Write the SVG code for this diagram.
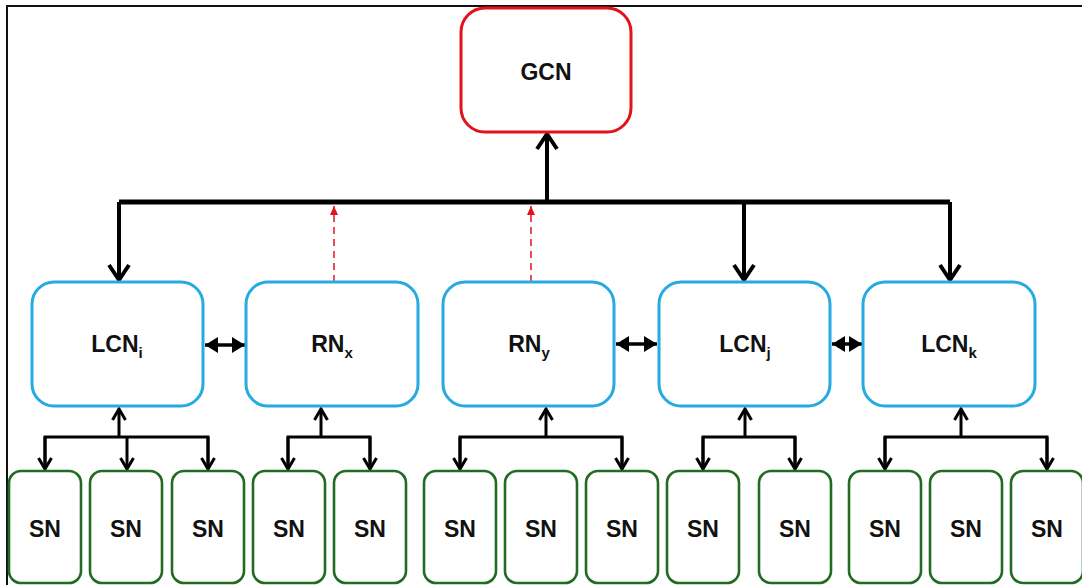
<svg xmlns="http://www.w3.org/2000/svg" width="1082" height="585" viewBox="0 0 1082 585">
<style>
  .txt{font-family:"Liberation Sans",Arial,sans-serif;font-weight:bold;font-size:23px;fill:#111;text-anchor:middle}
  .sub{font-size:15px}
  .gcn{fill:#fff;stroke:#e3131b;stroke-width:3}
  .mid{fill:#fff;stroke:#27aae1;stroke-width:3}
  .sn{fill:#fff;stroke:#226b22;stroke-width:2.6}
  .bus{stroke:#000;stroke-width:5;fill:none}
  .drop{stroke:#000;stroke-width:4;fill:none}
  .tree{stroke:#000;stroke-width:3;fill:none}
  .bi{stroke:#000;stroke-width:3.5;fill:none}
  .red{stroke:#e3131b;stroke-width:1.5;stroke-dasharray:7 5;fill:none}
</style>
<defs>
  <marker id="chevBig" markerUnits="userSpaceOnUse" markerWidth="30" markerHeight="30" viewBox="-20 -15 30 30" refX="0" refY="0" orient="auto" overflow="visible">
    <path d="M-15,-10 L0,0 L-15,10" fill="none" stroke="#000" stroke-width="4" stroke-linejoin="miter"/>
  </marker>
  <marker id="chev" markerUnits="userSpaceOnUse" markerWidth="24" markerHeight="24" viewBox="-16 -12 24 24" refX="0" refY="0" orient="auto" overflow="visible">
    <path d="M-11,-6.5 L0,0 L-11,6.5" fill="none" stroke="#000" stroke-width="3" stroke-linejoin="miter"/>
  </marker>
  <marker id="tri" markerUnits="userSpaceOnUse" markerWidth="20" markerHeight="20" viewBox="-14 -10 20 20" refX="0" refY="0" orient="auto-start-reverse" overflow="visible">
    <path d="M-13,-8 L0,0 L-13,8 Z" fill="#000"/>
  </marker>
  <marker id="redtri" markerUnits="userSpaceOnUse" markerWidth="12" markerHeight="12" viewBox="-10 -6 12 12" refX="0" refY="0" orient="auto" overflow="visible">
    <path d="M-9,-4 L0,0 L-9,4 Z" fill="#e3131b"/>
  </marker>
</defs>

<rect x="7" y="6" width="1090" height="600" fill="none" stroke="#111" stroke-width="2"/>

<g id="connectors">
  <!-- bus -->
  <path class="bus" d="M119,202 H950"/>
  <path class="drop" d="M547,202 V134" marker-end="url(#chevBig)"/>
  <path class="drop" d="M119,202 V280" marker-end="url(#chevBig)"/>
  <path class="drop" d="M744,202 V280" marker-end="url(#chevBig)"/>
  <path class="drop" d="M950,202 V280" marker-end="url(#chevBig)"/>
  <path class="red" d="M334,282 V206" marker-end="url(#redtri)"/>
  <path class="red" d="M531,282 V206" marker-end="url(#redtri)"/>
  <!-- lateral -->
  <path class="bi" d="M205,345 H245" marker-start="url(#tri)" marker-end="url(#tri)"/>
  <path class="bi" d="M616,344 H657" marker-start="url(#tri)" marker-end="url(#tri)"/>
  <path class="bi" d="M832,344 H862" marker-start="url(#tri)" marker-end="url(#tri)"/>
  <!-- trees -->
  <path class="tree" d="M119,437 V409" marker-end="url(#chev)"/>
  <path class="tree" d="M45,469 V437 H208 V469" />
  <path class="tree" d="M45,437 V469" marker-end="url(#chev)"/>
  <path class="tree" d="M127,437 V469" marker-end="url(#chev)"/>
  <path class="tree" d="M208,437 V469" marker-end="url(#chev)"/>

  <path class="tree" d="M321,437 V409" marker-end="url(#chev)"/>
  <path class="tree" d="M288,469 V437 H370 V469"/>
  <path class="tree" d="M288,437 V469" marker-end="url(#chev)"/>
  <path class="tree" d="M370,437 V469" marker-end="url(#chev)"/>

  <path class="tree" d="M546,437 V409" marker-end="url(#chev)"/>
  <path class="tree" d="M460,469 V437 H622 V469"/>
  <path class="tree" d="M460,437 V469" marker-end="url(#chev)"/>
  <path class="tree" d="M622,437 V469" marker-end="url(#chev)"/>

  <path class="tree" d="M745,437 V409" marker-end="url(#chev)"/>
  <path class="tree" d="M703,469 V437 H795 V469"/>
  <path class="tree" d="M703,437 V469" marker-end="url(#chev)"/>
  <path class="tree" d="M795,437 V469" marker-end="url(#chev)"/>

  <path class="tree" d="M961,437 V409" marker-end="url(#chev)"/>
  <path class="tree" d="M885,469 V437 H1047 V469"/>
  <path class="tree" d="M885,437 V469" marker-end="url(#chev)"/>
  <path class="tree" d="M1047,437 V469" marker-end="url(#chev)"/>
</g>

<g id="GCN"><rect class="gcn" x="461" y="8" width="170" height="124" rx="24"/><text class="txt" x="546" y="80">GCN</text></g>

<g id="LCNi"><rect class="mid" x="32" y="282" width="171" height="124" rx="22"/><text class="txt" x="117" y="352">LCN<tspan class="sub" dy="6">i</tspan></text></g>
<g id="RNx"><rect class="mid" x="246" y="282" width="172" height="124" rx="22"/><text class="txt" x="332" y="352">RN<tspan class="sub" dy="6">x</tspan></text></g>
<g id="RNy"><rect class="mid" x="443" y="282" width="171" height="124" rx="22"/><text class="txt" x="529" y="352">RN<tspan class="sub" dy="6">y</tspan></text></g>
<g id="LCNj"><rect class="mid" x="659" y="282" width="171" height="124" rx="22"/><text class="txt" x="745" y="352">LCN<tspan class="sub" dy="6">j</tspan></text></g>
<g id="LCNk"><rect class="mid" x="863" y="282" width="172" height="124" rx="22"/><text class="txt" x="949" y="352">LCN<tspan class="sub" dy="6">k</tspan></text></g>

<g id="SN1"><rect class="sn" x="9" y="471" width="72" height="112" rx="12"/><text class="txt" x="45" y="537">SN</text></g>
<g id="SN2"><rect class="sn" x="90" y="471" width="72" height="112" rx="12"/><text class="txt" x="126" y="537">SN</text></g>
<g id="SN3"><rect class="sn" x="172" y="471" width="72" height="112" rx="12"/><text class="txt" x="208" y="537">SN</text></g>
<g id="SN4"><rect class="sn" x="253" y="471" width="72" height="112" rx="12"/><text class="txt" x="289" y="537">SN</text></g>
<g id="SN5"><rect class="sn" x="334" y="471" width="72" height="112" rx="12"/><text class="txt" x="370" y="537">SN</text></g>
<g id="SN6"><rect class="sn" x="424" y="471" width="72" height="112" rx="12"/><text class="txt" x="460" y="537">SN</text></g>
<g id="SN7"><rect class="sn" x="505" y="471" width="72" height="112" rx="12"/><text class="txt" x="541" y="537">SN</text></g>
<g id="SN8"><rect class="sn" x="586" y="471" width="72" height="112" rx="12"/><text class="txt" x="622" y="537">SN</text></g>
<g id="SN9"><rect class="sn" x="667" y="471" width="72" height="112" rx="12"/><text class="txt" x="703" y="537">SN</text></g>
<g id="SN10"><rect class="sn" x="759" y="471" width="72" height="112" rx="12"/><text class="txt" x="795" y="537">SN</text></g>
<g id="SN11"><rect class="sn" x="849" y="471" width="72" height="112" rx="12"/><text class="txt" x="885" y="537">SN</text></g>
<g id="SN12"><rect class="sn" x="930" y="471" width="72" height="112" rx="12"/><text class="txt" x="966" y="537">SN</text></g>
<g id="SN13"><rect class="sn" x="1011" y="471" width="72" height="112" rx="12"/><text class="txt" x="1047" y="537">SN</text></g>
</svg>
